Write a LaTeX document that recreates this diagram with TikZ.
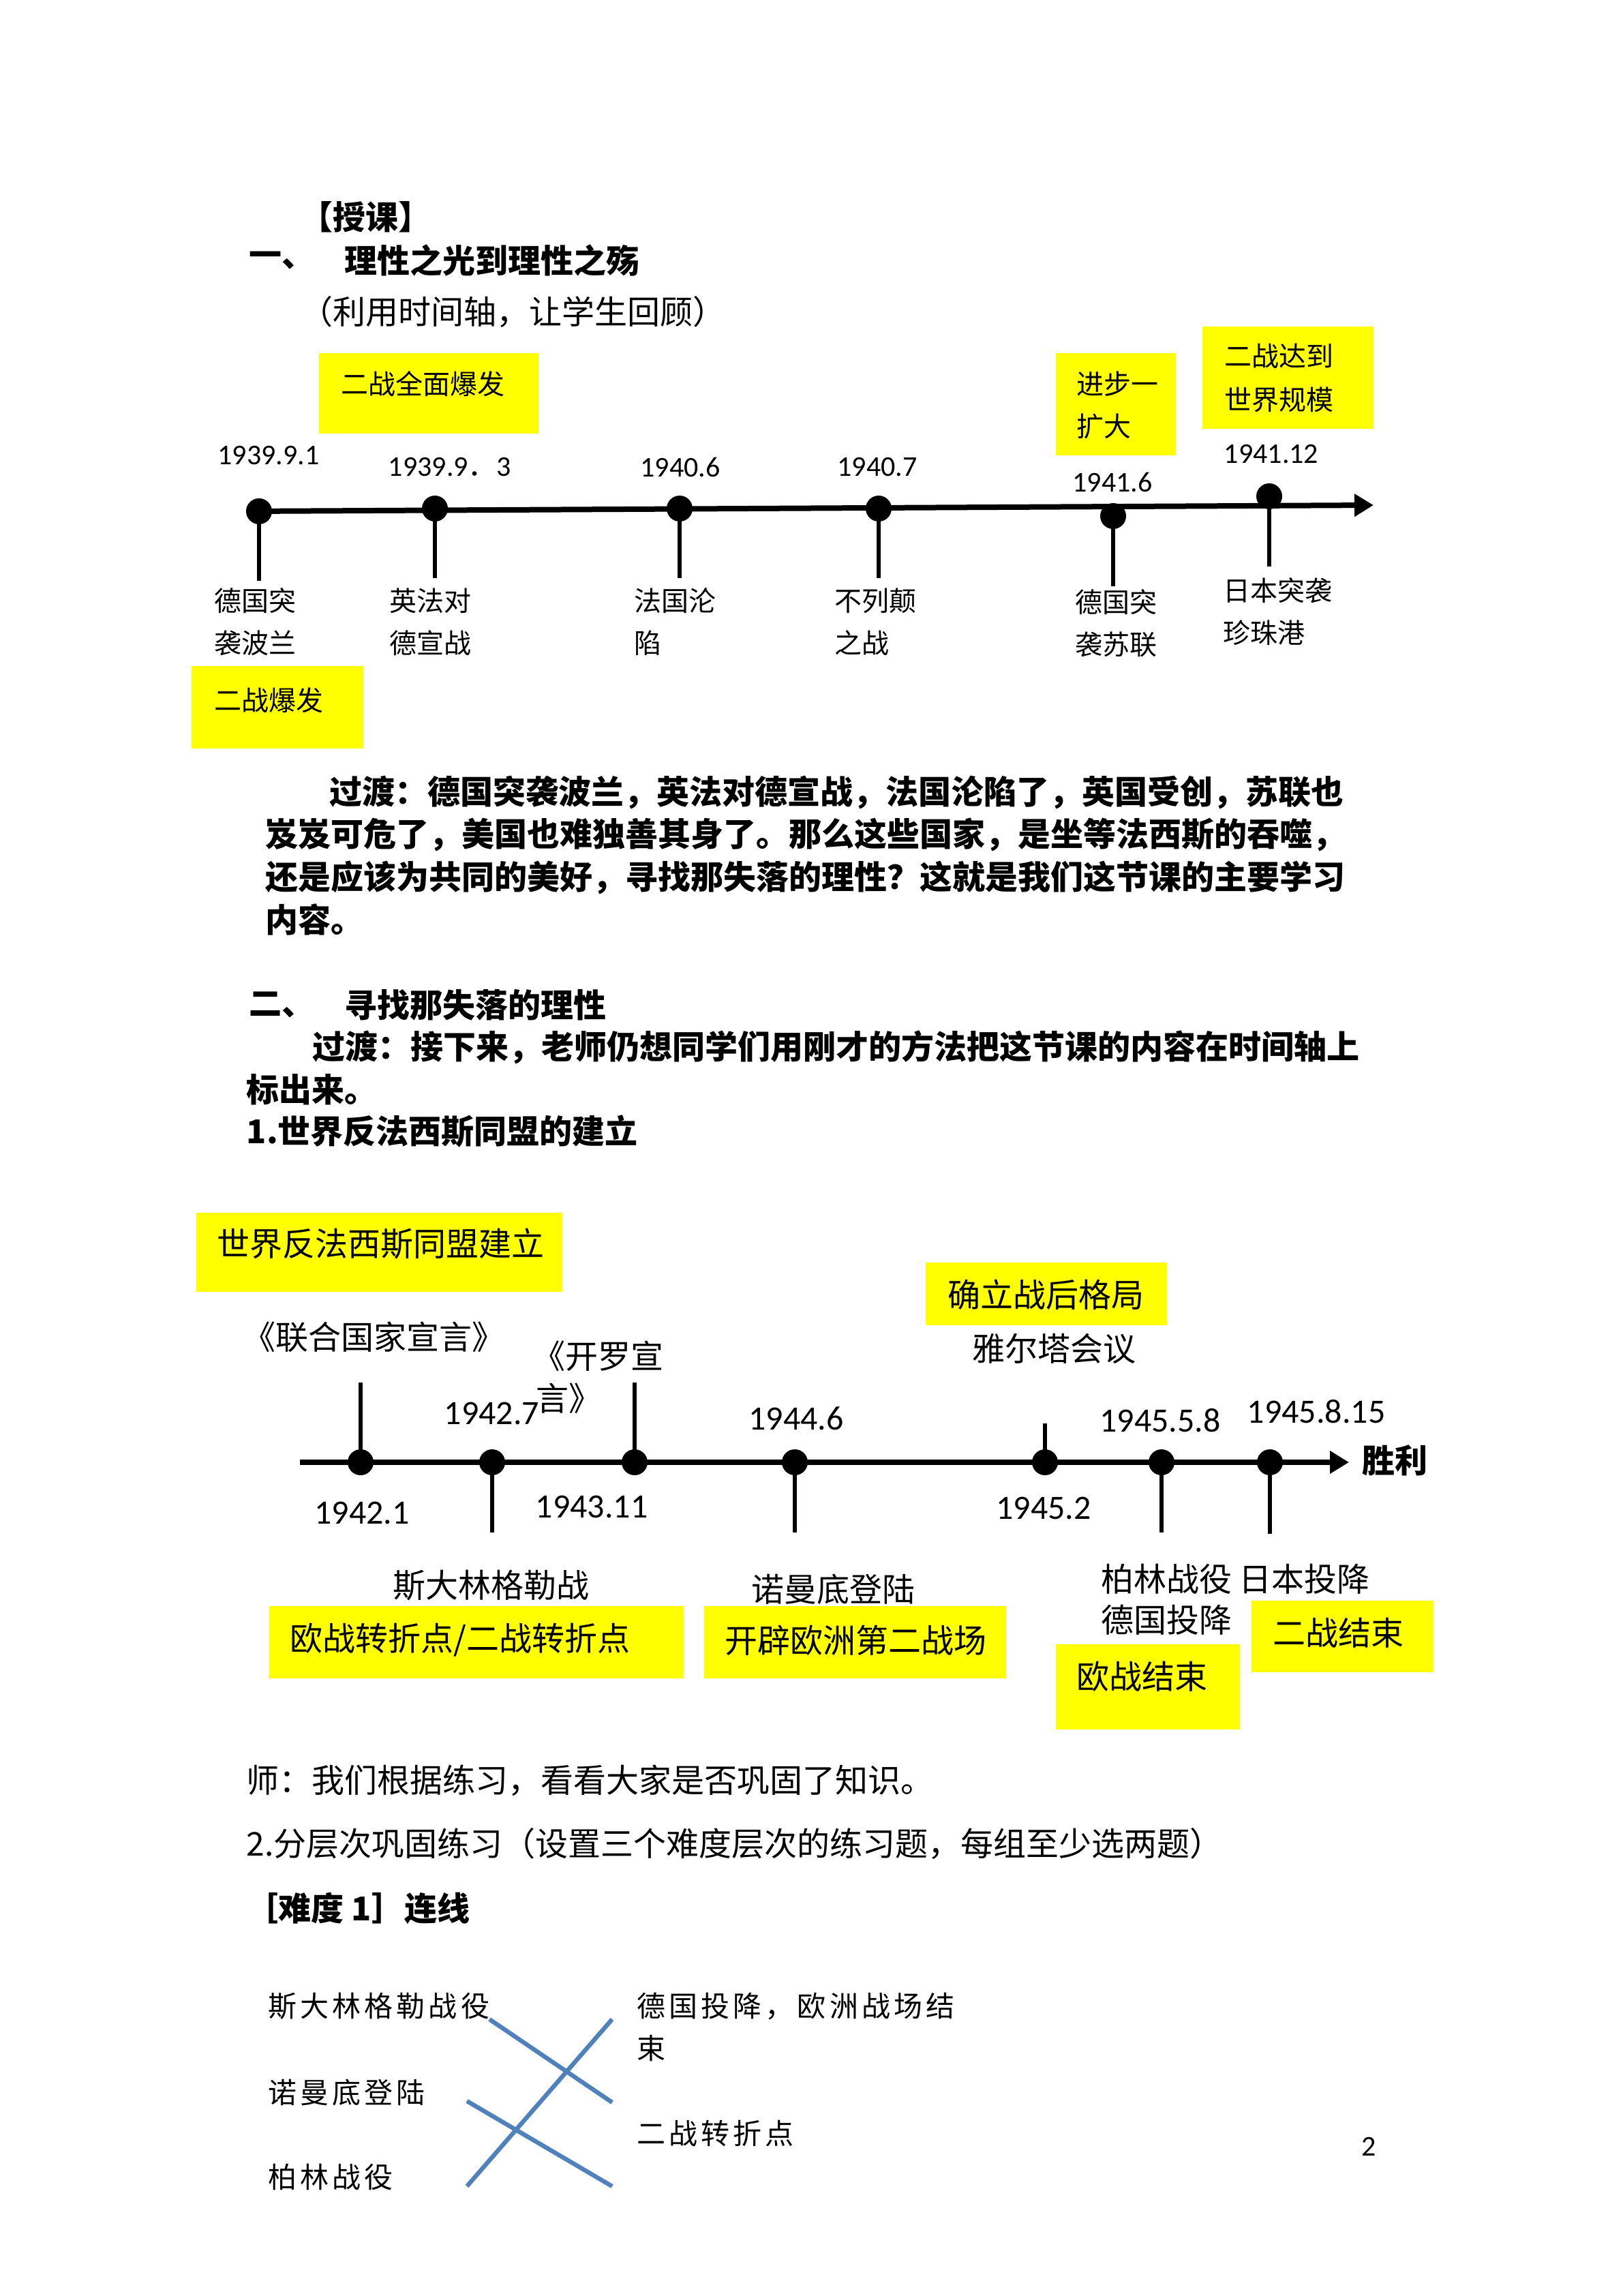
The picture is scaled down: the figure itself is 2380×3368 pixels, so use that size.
\documentclass[tikz,border=0pt]{standalone}
\usepackage{fontspec}
\setmainfont{Noto Sans CJK SC}
\newfontfamily\num{Carlito}
\newfontfamily\kai{Noto Sans CJK SC}[LetterSpace=12]
\usetikzlibrary{arrows.meta}
\definecolor{ylw}{RGB}{255,255,0}
\definecolor{lineblue}{RGB}{79,129,189}
\begin{document}
\begin{tikzpicture}[x=0.25pt,y=-0.25pt,
  txt/.style={inner sep=0pt, anchor=west, align=left, font=\fontsize{12pt}{15.5pt}\selectfont},
  btxt/.style={txt, font=\fontsize{12pt}{15.5pt}\selectfont\bfseries},
  stxt/.style={txt, font=\fontsize{10pt}{15.5pt}\selectfont},
  ktxt/.style={txt, font=\kai\fontsize{10.5pt}{15.5pt}\selectfont},
  dateA/.style={inner sep=0pt, font=\num\fontsize{10.5pt}{12pt}\selectfont},
  dateB/.style={inner sep=0pt, font=\num\fontsize{12.5pt}{14pt}\selectfont},
  ybox/.style={fill=ylw, inner sep=0pt},
  dot/.style={circle, fill=black, inner sep=0pt, minimum size=9.5pt},
  stem/.style={line width=1.3pt},
  axis/.style={line width=2pt, -{Triangle[length=7pt,width=8pt]}},
  xline/.style={draw=lineblue, line width=1.6pt}
]
\useasboundingbox (0,0) rectangle (2380,3368);

% ---------- header ----------
\node[btxt] (h1) at (440,318) {【授课】};
\node[btxt] (h2a) at (365,382) {一、};
\node[btxt] (h2b) at (505,382) {理性之光到理性之殇};
\node[txt] (h3) at (440,458) {（利用时间轴，让学生回顾）};

% ---------- timeline 1 boxes ----------
\node[ybox, minimum width=80.5pt, minimum height=29.5pt] (b1) at (629,577) {};
\node[ybox, minimum width=44pt, minimum height=37.5pt] (b2) at (1637,593) {};
\node[ybox, minimum width=62.75pt, minimum height=37.5pt] (b3) at (1889.5,554) {};
\node[ybox, minimum width=63pt, minimum height=30.25pt] (b4) at (407,1037.5) {};
\node[stxt] (b1t) at (500,563) {二战全面爆发};
\node[stxt] (b2t) at (1579,594) {进步一\\扩大};
\node[stxt, font=\fontsize{10pt}{16pt}\selectfont] (b3t) at (1796,554) {二战达到\\世界规模};
\node[stxt] (b4t) at (314,1027) {二战爆发};

% ---------- timeline 1 ----------
\coordinate (a1s) at (365,750);
\coordinate (a1e) at (2015,741);
\draw[axis] (a1s) -- (a1e);
\node[dot] (p1) at (380,750) {};
\node[dot] (p2) at (638,746) {};
\node[dot] (p3) at (997,746) {};
\node[dot] (p4) at (1289,746) {};
\node[dot] (p5) at (1633,757) {};
\node[dot] (p6) at (1862,728) {};
\coordinate (e1) at (380,852);
\coordinate (e2) at (638,848);
\coordinate (e3) at (997,848);
\coordinate (e4) at (1289,848);
\coordinate (e5) at (1633,860);
\coordinate (e6) at (1862,831);
\foreach \i in {1,...,6} {\draw[stem] (p\i.center) -- (e\i);}

\node[dateA] (d1) at (394,668) {1939.9.1};
\node[dateA] (d2) at (660,685) {1939.9{\rmfamily ．}3};
\node[dateA] (d3) at (998,685) {1940.6};
\node[dateA] (d4) at (1287,685) {1940.7};
\node[dateA] (d5) at (1632,707) {1941.6};
\node[dateA] (d6) at (1865,666) {1941.12};

\node[stxt] (l1) at (314,912) {德国突\\袭波兰};
\node[stxt] (l2) at (571,912) {英法对\\德宣战};
\node[stxt] (l3) at (930,912) {法国沦\\陷};
\node[stxt] (l4) at (1224,912) {不列颠\\之战};
\node[stxt] (l5) at (1577,914) {德国突\\袭苏联};
\node[stxt] (l6) at (1794,897) {日本突袭\\珍珠港};

% ---------- paragraph ----------
\node[btxt] (t1) at (483,1162) {过渡：德国突袭波兰，英法对德宣战，法国沦陷了，英国受创，苏联也};
\node[btxt] (t2) at (389,1224) {岌岌可危了，美国也难独善其身了。那么这些国家，是坐等法西斯的吞噬，};
\node[btxt] (t3) at (389,1287) {还是应该为共同的美好，寻找那失落的理性？这就是我们这节课的主要学习};
\node[btxt] (t4) at (389,1349) {内容。};

\node[btxt] (s2a) at (365,1474) {二、};
\node[btxt] (s2b) at (505,1474) {寻找那失落的理性};
\node[btxt] (t5) at (458,1536) {过渡：接下来，老师仍想同学们用刚才的方法把这节课的内容在时间轴上};
\node[btxt] (t6) at (361,1598) {标出来。};
\node[btxt] (t7) at (361,1660) {1.世界反法西斯同盟的建立};

% ---------- timeline 2 boxes ----------
\node[ybox, minimum width=134.25pt, minimum height=29pt] (c1) at (556.5,1837) {};
\node[ybox, minimum width=88.5pt, minimum height=23pt] (c2) at (1535,1898) {};
\node[ybox, minimum width=152pt, minimum height=26.5pt] (c3) at (699,2409) {};
\node[ybox, minimum width=110.75pt, minimum height=26.5pt] (c4) at (1254.5,2409) {};
\node[ybox, minimum width=67.5pt, minimum height=31.25pt] (c5) at (1684,2474.5) {};
\node[ybox, minimum width=66.75pt, minimum height=26.25pt] (c6) at (1969.5,2400.5) {};
\node[txt] (c1t) at (318,1824) {世界反法西斯同盟建立};
\node[txt] (c2t) at (1390,1899) {确立战后格局};
\node[txt] (c3t) at (425,2406) {欧战转折点/二战转折点};
\node[txt] (c4t) at (1063,2406) {开辟欧洲第二战场};
\node[txt] (c5t) at (1579,2459) {欧战结束};
\node[txt] (c6t) at (1867,2395) {二战结束};

% ---------- timeline 2 ----------
\coordinate (a2s) at (440,2145);
\coordinate (a2e) at (1979,2145);
\draw[axis] (a2s) -- (a2e);
\node[dot] (q1) at (529,2145) {};
\node[dot] (q2) at (722,2145) {};
\node[dot] (q3) at (931,2145) {};
\node[dot] (q4) at (1166,2145) {};
\node[dot] (q5) at (1533,2145) {};
\node[dot] (q6) at (1704,2145) {};
\node[dot] (q7) at (1863,2145) {};
\coordinate (f1) at (529,2028);
\coordinate (f2) at (722,2248);
\coordinate (f3) at (931,2028);
\coordinate (f4) at (1166,2248);
\coordinate (f5) at (1533,2088);
\coordinate (f6) at (1704,2248);
\coordinate (f7) at (1863,2250);
\foreach \i in {1,...,7} {\draw[stem] (q\i.center) -- (f\i);}

\node[txt] (u1) at (356,1961) {《联合国家宣言》};
\node[txt] (u2) at (781,1989) {《开罗宣};
\node[txt] (u3) at (786,2051) {言》};
\node[txt] (u4) at (1426,1978) {雅尔塔会议};
\node[dateB, anchor=west] (g2) at (651,2073) {1942.7};
\node[dateB] (g4) at (1168,2081) {1944.6};
\node[dateB] (g6) at (1702,2084) {1945.5.8};
\node[dateB] (g7) at (1931,2071) {1945.8.15};
\node[btxt] (win) at (1998,2142) {胜利};
\node[dateB] (g1) at (531,2219) {1942.1};
\node[dateB] (g3) at (868,2210) {1943.11};
\node[dateB] (g5) at (1531,2212) {1945.2};

\node[txt] (v1) at (576,2326) {斯大林格勒战};
\node[txt] (v2) at (1102,2331) {诺曼底登陆};
\node[txt] (v3) at (1615,2316) {柏林战役};
\node[txt] (v4) at (1817,2316) {日本投降};
\node[txt] (v5) at (1615,2376) {德国投降};

% ---------- exercises ----------
\node[txt] (w1) at (361,2612) {师：我们根据练习，看看大家是否巩固了知识。};
\node[txt] (w2) at (361,2704) {2.分层次巩固练习（设置三个难度层次的练习题，每组至少选两题）};
\node[btxt] (w3) at (360,2799) {［难度 1］连线};

\node[ktxt] (k1) at (393,2943) {斯大林格勒战役};
\node[ktxt] (k2) at (393,3070) {诺曼底登陆};
\node[ktxt] (k3) at (393,3194) {柏林战役};
\node[ktxt] (k4) at (934,2943) {德国投降，欧洲战场结};
\node[ktxt] (k5) at (934,3005) {束};
\node[ktxt] (k6) at (934,3130) {二战转折点};

\coordinate (xa1) at (718,2962);
\coordinate (xa2) at (898,3084);
\coordinate (xb1) at (898,2962);
\coordinate (xb2) at (685,3207);
\coordinate (xc1) at (685,3082);
\coordinate (xc2) at (898,3207);
\draw[xline] (xa1) -- (xa2);
\draw[xline] (xb1) -- (xb2);
\draw[xline] (xc1) -- (xc2);

\node[dateA] (pg) at (2008,3149) {2};
\end{tikzpicture}
\end{document}
